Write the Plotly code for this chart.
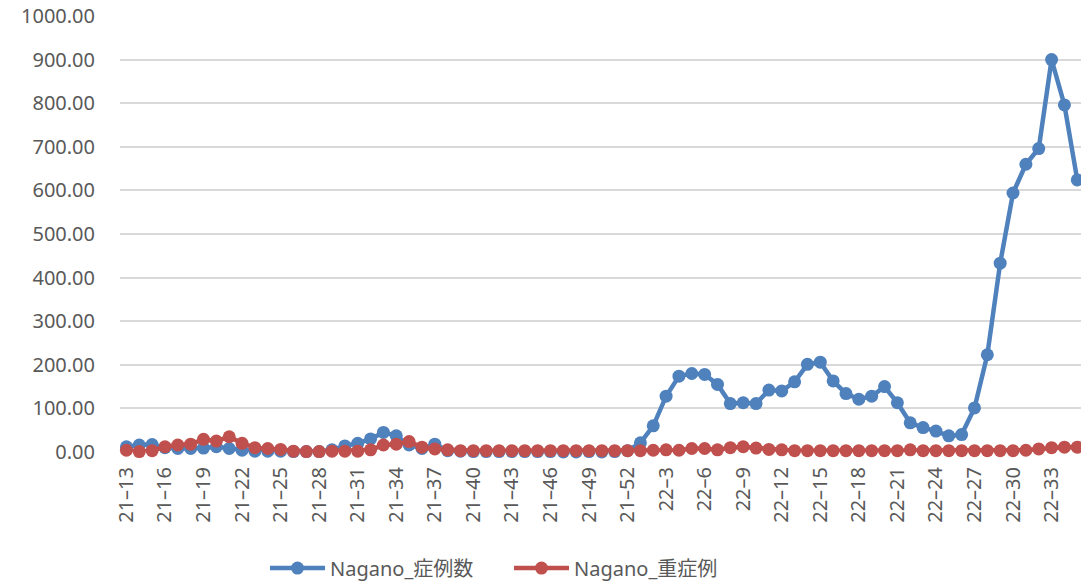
import plotly.graph_objects as go

# Weekly categories: 2021 week 13 .. 2022 week 35
weeks = [f"21-{w}" for w in range(13, 53)] + [f"22-{w}" for w in range(1, 36)]

# Nagano weekly values
cases = [
    12, 16, 17, 10, 8, 8, 9, 12, 8, 4,
    2, 2, 2, 1, 1, 1, 5, 14, 20, 30,
    45, 37, 16, 8, 18, 3, 2, 1, 1, 1,
    1, 1, 1, 1, 0, 0, 1, 0, 1, 3,
    21, 60, 128, 174, 180, 178, 155, 111, 113, 111,
    142, 140, 161, 201, 206, 163, 134, 121, 128, 150,
    113, 67, 56, 48, 37, 40, 101, 223, 433, 594,
    660, 696, 900, 796, 624,
]
severe = [
    4, 1, 3, 12, 16, 18, 29, 25, 35, 20,
    10, 8, 6, 2, 1, 1, 2, 2, 2, 5,
    16, 18, 24, 11, 7, 5, 3, 3, 3, 3,
    3, 3, 3, 3, 3, 3, 3, 3, 3, 3,
    3, 4, 5, 4, 8, 8, 5, 10, 12, 9,
    6, 5, 3, 3, 3, 3, 3, 3, 3, 3,
    3, 5, 3, 3, 3, 3, 3, 3, 3, 3,
    4, 7, 10, 11, 11,
]

series_names = ["Nagano_症例数", "Nagano_重症例"]
series_colors = ["#4F81BD", "#C0504D"]

# Every third week is labelled
tick_weeks = weeks[::3]
tick_text = [w.replace("-", "–") for w in tick_weeks]

FONT = "Noto Sans, Noto Sans CJK JP, sans-serif"
GREY = "#595959"

fig = go.Figure()
for name, vals, col in zip(series_names, [cases, severe], series_colors):
    fig.add_trace(go.Scatter(
        x=weeks, y=vals, name=name, mode="lines+markers",
        line=dict(color=col, width=4.5),
        marker=dict(color=col, size=13),
        cliponaxis=False,
    ))

fig.update_layout(
    width=1081, height=582,
    margin=dict(l=120, r=0, t=16, b=130),
    plot_bgcolor="white", paper_bgcolor="white",
    font=dict(family=FONT, size=20, color=GREY),
    showlegend=True,
    legend=dict(
        orientation="h", xref="container", yref="container",
        x=265 / 1081, xanchor="left", y=0.024, yanchor="middle",
        font=dict(family=FONT, size=20, color=GREY),
        itemwidth=55, entrywidth=174, entrywidthmode="pixels",
        tracegroupgap=0,
    ),
    xaxis=dict(
        type="category", range=[-0.5, 74.29],
        tickmode="array", tickvals=tick_weeks, ticktext=tick_text,
        tickangle=-90, showgrid=False, showline=False, zeroline=False,
        ticks="", ticklabelstandoff=10,
        tickfont=dict(family=FONT, size=20, color=GREY),
    ),
    yaxis=dict(
        range=[0, 1000], dtick=100, tickformat=".2f",
        showgrid=True, gridcolor="#D9D9D9", gridwidth=1.5,
        zeroline=False, showline=False, ticks="",
        ticklabelstandoff=24,
        tickfont=dict(family=FONT, size=20, color=GREY),
    ),
)

fig.write_html("out.html")
